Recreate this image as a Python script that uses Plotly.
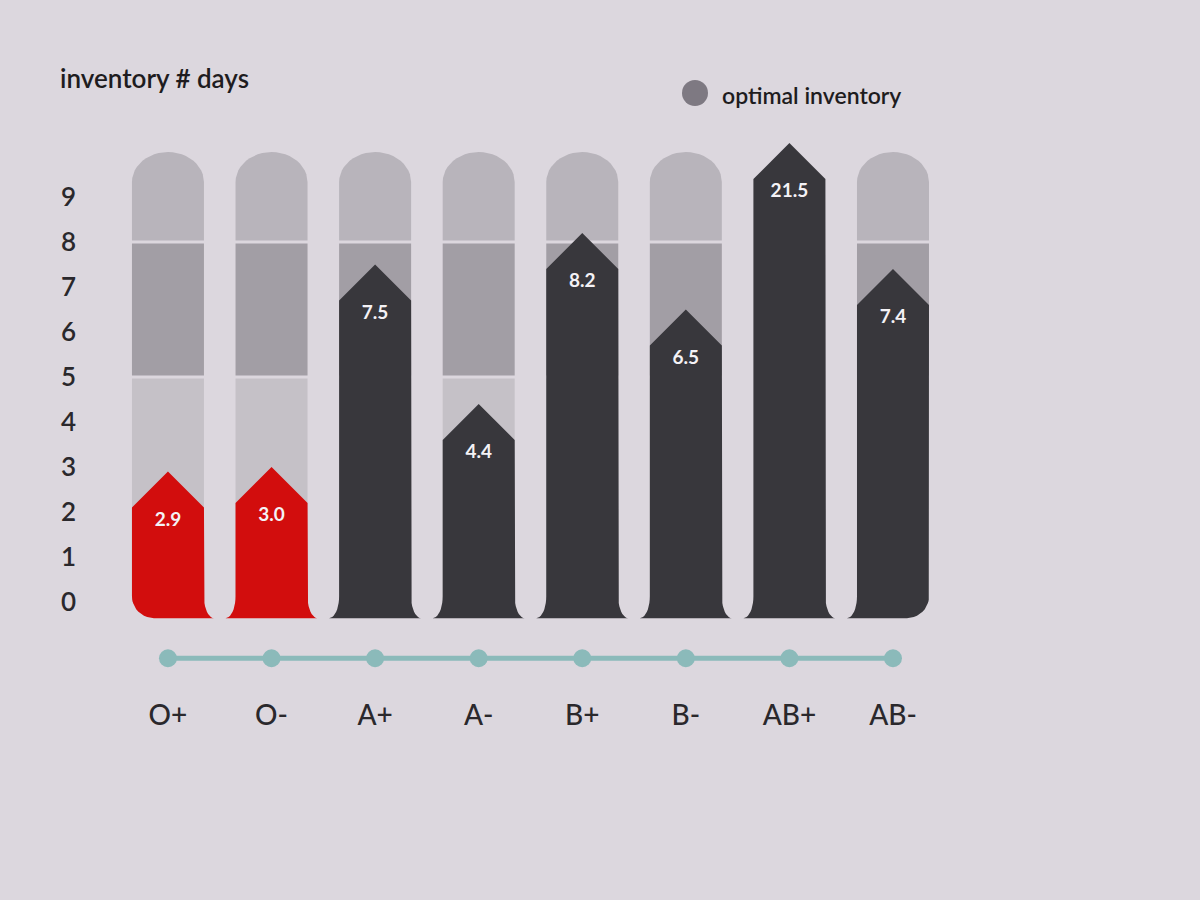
import math
import plotly.graph_objects as go

# ---------------- data ----------------
categories = ["O+", "O-", "A+", "A-", "B+", "B-", "AB+", "AB-"]
inventory_days = [2.9, 3.0, 7.5, 4.4, 8.2, 6.5, 21.5, 7.4]
critical = [True, True, False, False, False, False, False, False]
y_ticks = [0, 1, 2, 3, 4, 5, 6, 7, 8, 9]
zone_edges = [0, 5, 8, 10]          # background zones (days)
display_cap = 10.2                  # bars above this are drawn clipped

# ---------------- layout geometry ----------------
W, H = 1200, 900
ML, MR, MT, MB = 85, 240, 120, 208
PW, PH = W - ML - MR, H - MT - MB
X_RANGE = [-0.801, 7.647]
Y_RANGE = [-2.0, 10.711]
PXX = PW / (X_RANGE[1] - X_RANGE[0])   # px per x unit
PXY = PH / (Y_RANGE[1] - Y_RANGE[0])   # px per y unit

HW = 36 / PXX          # half bar width
TIP = 36 / PXY         # arrow tip height
BASE = -0.36           # bottom of the flared base

BG = "#dcd7de"
ZONE_COLORS = ["#c5c1c7", "#a29ea5", "#b8b4bb"]
RED = "#d20d0d"
DARK = "#38373c"
TEAL = "#8bbaba"

xpos = list(range(len(categories)))


def arc(cx, cy, rx, ry, a0, a1, n=10):
    pts = []
    for k in range(n + 1):
        a = math.radians(a0 + (a1 - a0) * k / n)
        pts.append((cx + rx * math.cos(a), cy + ry * math.sin(a)))
    return pts


def bar_outline(c, top, left_outer, right_outer):
    sh = top - TIP
    pts = [(c - HW, sh), (c, top), (c + HW, sh)]
    if right_outer:
        rx, ry = 22 / PXX, 22 / PXY
        pts += arc(c + HW - rx, BASE + ry, rx, ry, 0, -90)
    else:
        rx, ry = 10 / PXX, 22 / PXY
        pts += arc(c + HW + rx, BASE + ry, rx, ry, 180, 270)
    if left_outer:
        rx, ry = 22 / PXX, 22 / PXY
        pts += arc(c - HW + rx, BASE + ry, rx, ry, 270, 180)
    else:
        rx, ry = 10 / PXX, 22 / PXY
        pts += arc(c - HW - rx, BASE + ry, rx, ry, 270, 360)
    pts.append((c - HW, sh))
    return [p[0] for p in pts], [p[1] for p in pts]


def zone_outline(c, y0, y1, rounded):
    if not rounded:
        xs = [c - HW, c + HW, c + HW, c - HW, c - HW]
        ys = [y0, y0, y1, y1, y0]
        return xs, ys
    rx, ry = HW, 30 / PXY
    pts = [(c - HW, y0), (c + HW, y0)]
    pts += arc(c, y1 - ry, rx, ry, 0, 180, 24)
    pts.append((c - HW, y0))
    return [p[0] for p in pts], [p[1] for p in pts]


fig = go.Figure()

gap = 1.5 / PXY
# background zones (hidden entirely when the bar overflows the column)
for c, v in zip(xpos, inventory_days):
    if v >= zone_edges[-1]:
        continue
    for z in range(len(zone_edges) - 1):
        y0 = zone_edges[z] + (gap if z > 0 else 0)
        y1 = zone_edges[z + 1] - (gap if z < len(zone_edges) - 2 else 0)
        xs, ys = zone_outline(c, y0, y1, z == len(zone_edges) - 2)
        fig.add_trace(go.Scatter(x=xs, y=ys, mode="lines", fill="toself",
                                 fillcolor=ZONE_COLORS[z], line=dict(width=0),
                                 hoverinfo="skip", showlegend=False))

# bars
n = len(categories)
for i, (c, v) in enumerate(zip(xpos, inventory_days)):
    top = min(v, display_cap)
    xs, ys = bar_outline(c, top, i == 0, i == n - 1)
    fig.add_trace(go.Scatter(x=xs, y=ys, mode="lines", fill="toself",
                             fillcolor=RED if critical[i] else DARK,
                             line=dict(width=0), hoverinfo="skip",
                             showlegend=False))

# value labels
fig.add_trace(go.Scatter(
    x=xpos,
    y=[min(v, display_cap) - 1.1 for v in inventory_days],
    mode="text",
    text=[f"{v:.1f}" for v in inventory_days],
    textfont=dict(family="Lato", size=19, color="#f4f2f6", weight="bold"),
    hoverinfo="skip", showlegend=False))

# teal category line
fig.add_trace(go.Scatter(
    x=xpos, y=[-1.25] * n, mode="lines+markers",
    line=dict(color=TEAL, width=5),
    marker=dict(color=TEAL, size=18),
    hoverinfo="skip", showlegend=False))

# title & legend
fig.add_annotation(x=(58 - ML) / PW, y=(H - MB - 78) / PH, xref="paper", yref="paper",
                   text="inventory # days", showarrow=False, xanchor="left", yanchor="middle",
                   font=dict(family="Lato", size=26, color="#1e1c20", weight=600))
cx, cy, r = 695, 93, 13
fig.add_shape(type="circle", xref="paper", yref="paper",
              x0=(cx - r - ML) / PW, x1=(cx + r - ML) / PW,
              y0=(H - MB - (cy + r)) / PH, y1=(H - MB - (cy - r)) / PH,
              fillcolor="#7e7982", line=dict(width=0))
fig.add_annotation(x=(720 - ML) / PW, y=(H - MB - 95) / PH, xref="paper", yref="paper",
                   text="optimal inventory", showarrow=False, xanchor="left", yanchor="middle",
                   font=dict(family="Lato", size=23, color="#1e1c20", weight=600))

fig.update_layout(
    width=W, height=H,
    margin=dict(l=ML, r=MR, t=MT, b=MB),
    paper_bgcolor=BG, plot_bgcolor=BG,
    xaxis=dict(range=X_RANGE, tickvals=xpos, ticktext=categories,
               showgrid=False, zeroline=False, showline=False, ticks="",
               tickfont=dict(family="Lato", size=28, color="#2a282c", weight=500),
               ticklabelstandoff=4),
    yaxis=dict(range=Y_RANGE, tickvals=y_ticks, showgrid=False, zeroline=False,
               showline=False, ticks="",
               tickfont=dict(family="Lato", size=26, color="#2a282c", weight=600),
               ticklabelstandoff=8),
)

fig.write_html("out.html")
